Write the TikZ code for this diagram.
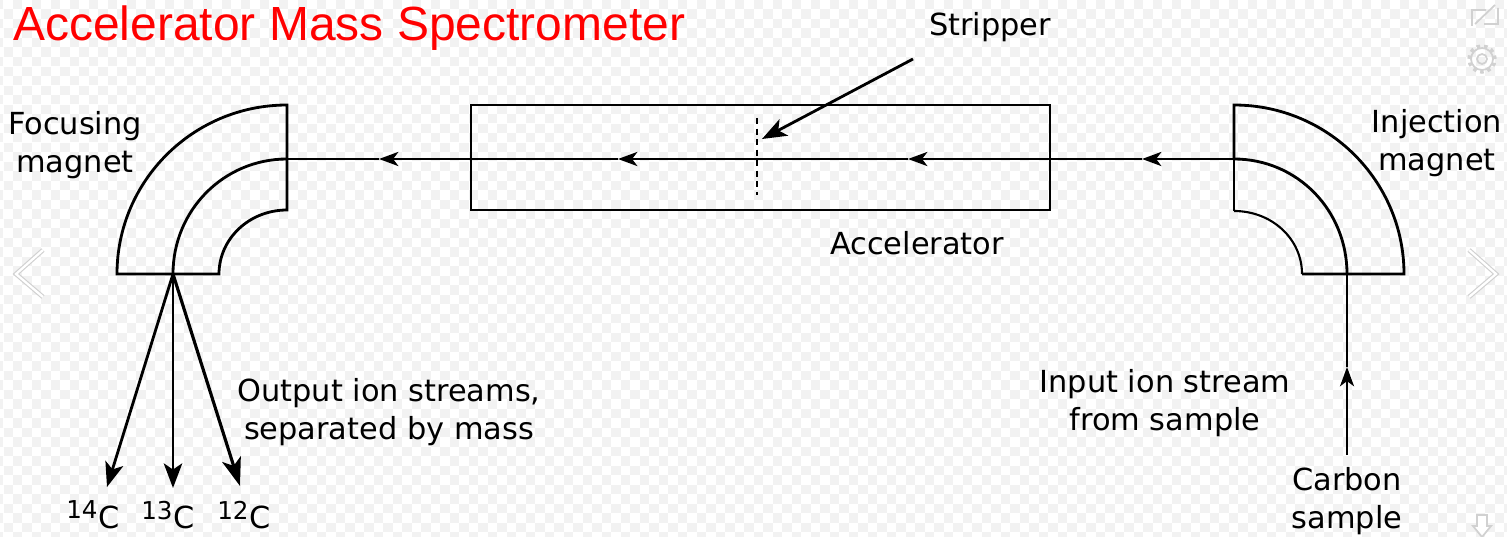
\documentclass[tikz,border=0pt]{standalone}
\usepackage{fontspec}
\setmainfont{DejaVu Sans}
\newfontfamily\titlefont{Liberation Sans}
\usepackage{xcolor}
\usetikzlibrary{arrows.meta}
\definecolor{uigray}{gray}{0.82}
\definecolor{checkgray}{gray}{0.95}
\newcommand{\iso}[1]{\raisebox{5.5pt}{\fontsize{14}{14}\selectfont #1}\kern0.5pt C}
\tikzset{
	wire/.style={black, line width=1.6pt},
	beam/.style={black, line width=1.6pt, -{Stealth[length=11pt, width=8pt, inset=3pt]}},
	stream/.style={black, line width=1.6pt, -{Stealth[length=14pt, width=10.5pt, inset=3.5pt]}},
	lbl/.style={font=\fontsize{17.3}{21.6}\selectfont, align=center, inner sep=0pt},
	uimark/.style={uigray, line width=1pt},
	checker/.style={checkgray, line width=0.19cm, dash pattern=on 0.19cm off 0.19cm}
}
\begin{document}
\begin{tikzpicture}[x=0.02cm,y=-0.02cm]
	\useasboundingbox (0,0) rectangle (1507,537);
	% background
	\begin{scope}
		\clip (0,0) rectangle (1507,537);
		\foreach \r in {0,2,...,56}{
			\draw[checker] (-6,\r*9.5+4.75) -- (1510,\r*9.5+4.75);
			\draw[checker] (3.5,\r*9.5+14.25) -- (1510,\r*9.5+14.25);
		}
	\end{scope}
	% title
	\node[anchor=west, red, inner sep=0pt, font=\titlefont\fontsize{27.3}{30}\selectfont] (title) at (13,28) {Accelerator Mass Spectrometer};
	% accelerator
	\draw[wire] (471,105) rectangle (1050,210);
	\draw[black, line width=1.5pt, dash pattern=on 3.5pt off 2.5pt] (757,118) -- (757,195);
	% focusing magnet
	\draw[wire] (287,159) -- (287,105) .. controls (193,105) and (117,181) .. (117,274) -- (219,274) .. controls (219,239) and (249,210) .. (287,210) -- (287,159);
	\draw[wire] (173,274) .. controls (173,210) and (224,159) .. (287,159);
	% injection magnet
	\draw[wire] (1234,159) -- (1234,105) .. controls (1328,105) and (1404,181) .. (1404,274) -- (1302,274);
	\draw[wire, line width=1.2pt] (1302,274) .. controls (1302,239) and (1272,211) .. (1234,211);
	\draw[wire] (1234,211) -- (1234,159);
	\draw[wire] (1347,274) .. controls (1347,210) and (1297,159) .. (1234,159);
	% beam
	\coordinate (inj) at (1234,159);
	\coordinate (b1) at (1142,159);
	\coordinate (b2) at (908,159);
	\coordinate (b3) at (618,159);
	\coordinate (b4) at (379,159);
	\coordinate (foc) at (287,159);
	\draw[beam] (inj) -- (b1);
	\draw[beam] (b1) -- (b2);
	\draw[beam] (b2) -- (b3);
	\draw[beam] (b3) -- (b4);
	\draw[wire] (b4) -- (foc);
	% input
	\coordinate (in0) at (1347,455);
	\coordinate (in1) at (1347,367);
	\coordinate (in2) at (1347,274);
	\draw[beam, line width=1.2pt] (in0) -- (in1);
	\draw[wire, line width=1.2pt] (in1) -- (in2);
	% outputs
	\coordinate (out) at (173,274);
	\coordinate (c14) at (107,487);
	\coordinate (c13) at (173,488);
	\coordinate (c12) at (240,486);
	\draw[stream] (out) -- (c14);
	\draw[stream] (out) -- (c13);
	\draw[stream, line width=1.8pt, -{Stealth[length=16pt, width=11pt, inset=4pt]}] (out) -- (c12);
	% stripper pointer
	\coordinate (st0) at (913,59);
	\coordinate (st1) at (762,139);
	\draw[stream] (st0) -- (st1);
	% labels
	\node[lbl] (stripper) at (990,27) {Stripper};
	\node[lbl] (focusing) at (75,145) {Focusing\\magnet};
	\node[lbl] (injection) at (1437,143) {Injection\\magnet};
	\node[lbl] (accel) at (917,243) {Accelerator};
	\node[lbl] (output) at (389,412) {Output ion streams,\\separated by mass};
	\node[lbl] (input) at (1165,403) {Input ion stream\\from sample};
	\node[lbl] (carbon) at (1347,501) {Carbon\\sample};
	\node[lbl] (l14) at (93,515) {\iso{14}};
	\node[lbl] (l13) at (168,515) {\iso{13}};
	\node[lbl] (l12) at (244,515) {\iso{12}};
	% viewer icons
	\draw[uigray, line width=2.6pt] (43,250) -- (16,274) -- (43,297);
	\draw[white, line width=1.3pt] (43,250) -- (16,274) -- (43,297);
	\draw[uigray, line width=2.6pt] (1469,250) -- (1496,274) -- (1469,297);
	\draw[white, line width=1.3pt] (1469,250) -- (1496,274) -- (1469,297);
	\draw[uimark] (1472,26) -- (1472,10) -- (1486,10) (1498,8) -- (1498,24) -- (1484,24) (1475,24) -- (1495,5);
	\draw[uimark] (1482,59) circle (11*0.02cm);
	\draw[uimark] (1482,59) circle (5*0.02cm);
	\draw[uimark, line width=2pt, dash pattern=on 2pt off 2.2pt] (1482,59) circle (13*0.02cm);
	\draw[uimark, fill=white] (1477,515) -- (1487,515) -- (1487,526) -- (1491,526) -- (1482,537) -- (1473,526) -- (1477,526) -- cycle;
\end{tikzpicture}
\end{document}
